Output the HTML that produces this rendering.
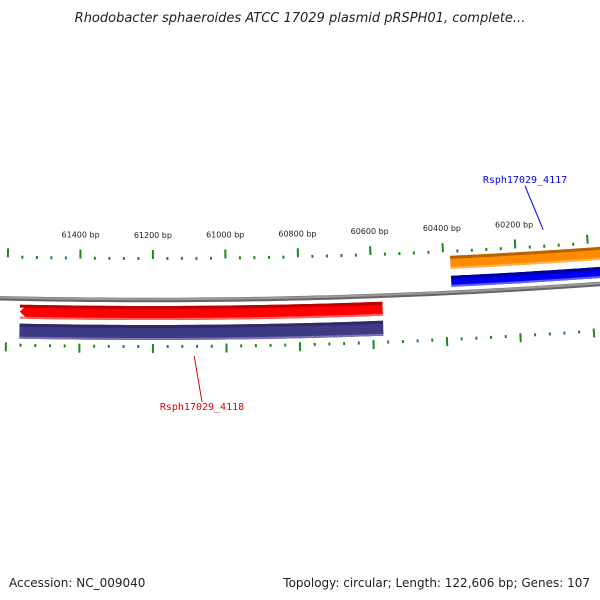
<!DOCTYPE html>
<html><head><meta charset="utf-8">
<style>
body{margin:0;background:#fff;width:600px;height:600px;overflow:hidden;font-family:"DejaVu Sans","Liberation Sans",sans-serif}
svg{display:block}
</style></head>
<body>
<svg id="c" width="600" height="600" viewBox="0 0 600 600">
<text x="300" y="22" text-anchor="middle" font-size="13" font-style="italic" fill="#222">Rhodobacter sphaeroides ATCC 17029 plasmid pRSPH01, complete...</text>
<g id="g"></g>
<text x="9" y="587" font-size="12" fill="#222">Accession: NC_009040</text>
<text x="590" y="587" font-size="12" fill="#222" text-anchor="end">Topology: circular; Length: 122,606 bp; Genes: 107</text>
</svg>
<script>
const tickLabels=[61400,61200,61000,60800,60600,60400,60200];
const geneNames=["Rsph17029_4118","Rsph17029_4117"];
const geneStarts=[60572,59900];
const geneEnds=[61564,60381];
const geneStrands=[-1,1];
const geneColors=["#ff0000","#ff8c00"];
const cogColors=["#3f3a85","#0000ee"];

const R=6330,CX=150,CY=300-R,BP0=61208,K=0.365/R;
const g=document.getElementById('g');
const NS="http://www.w3.org/2000/svg";
function P(bp,off){const t=(BP0-bp)*K,r=R+off;return [CX+r*Math.sin(t),CY+r*Math.cos(t)];}
function mk(tag,attrs){const e=document.createElementNS(NS,tag);for(const k in attrs)e.setAttribute(k,attrs[k]);g.appendChild(e);return e;}
function band(b1,b2,o1,o2,fill,arrowLeft){
  const pts=[];const n=40;
  const lo=Math.min(b1,b2),hi=Math.max(b1,b2);
  const hiA=arrowLeft?hi-20:hi;
  for(let i=0;i<=n;i++){pts.push(P(lo+(hiA-lo)*i/n,o1));}
  if(arrowLeft)pts.push(P(hi,(o1+o2)/2));
  for(let i=n;i>=0;i--){pts.push(P(lo+(hiA-lo)*i/n,o2));}
  return mk('polygon',{points:pts.map(p=>p[0].toFixed(2)+','+p[1].toFixed(2)).join(' '),fill:fill});
}
function arcPath(b1,b2,off){const pts=[];for(let i=0;i<=60;i++)pts.push(P(b1+(b2-b1)*i/60,off));return 'M'+pts.map(p=>p[0].toFixed(2)+' '+p[1].toFixed(2)).join(' L');}

// backbone
let e=mk('path',{d:arcPath(59700,61800,0),stroke:'#666',"stroke-width":4.5,fill:'none'});

e=mk('path',{d:arcPath(59700,61800,-0.8),stroke:'#9a9a9a',"stroke-width":2,fill:'none'});


// ticks
for(let bp=59880;bp<=61800;bp+=40){
  const major=bp%200===0;
  let a=P(bp,major?-50:-43),b=P(bp,major?-41:-40);
  e=mk('line',{x1:a[0],y1:a[1],x2:b[0],y2:b[1],stroke:'#1a8a1a',"stroke-width":2});
  
  a=P(bp,major?44:45);b=P(bp,major?53:48);
  e=mk('line',{x1:a[0],y1:a[1],x2:b[0],y2:b[1],stroke:'#1a8a1a',"stroke-width":2});
  
}
tickLabels.forEach(bp=>{const p=P(bp,-62);
  e=mk('text',{x:p[0],y:p[1],"font-size":8,"text-anchor":"middle",fill:'#222'});
  e.textContent=bp+' bp';
  });

// genes
geneNames.forEach((nm,i)=>{
  const s=geneStarts[i],en=geneEnds[i],fw=geneStrands[i]>0;
  const o1=fw?-37:6,o2=fw?-24:20;
  e=band(s,en,o1,o2,geneColors[i],!fw);
  
  e=band(s,en,o1,o1+3,fw?'#b86200':'#c00000',false);
  
  e=band(s,en,o2-2,o2,fw?'#ffb050':'#ff6060',false);
  
  const c1=fw?-17:25,c2=fw?-6:40;
  e=band(s,en,c1,c2,cogColors[i],false);
  
  e=band(s,en,c1,c1+3,fw?'#00009a':'#2e2a66',false);
  
  e=band(s,en,c2-2,c2,fw?'#6060ff':'#7a74b0',false);
  
});
// labels
function label(nm,bp,off1,off2,col,lx,ly){
  const a=P(bp,off1);
  e=mk('line',{x1:a[0],y1:a[1],x2:lx,y2:ly,stroke:col,"stroke-width":1});
  
  e=mk('text',{x:lx,y:ly+(off1>0?8:-3),"font-size":10,"text-anchor":"middle",fill:col,"font-family":"DejaVu Sans Mono, Liberation Mono, monospace"});
  e.textContent=nm;
  
}
label(geneNames[0],(geneStarts[0]+geneEnds[0])/2+20,56,0,'#e00000',202,402);
label(geneNames[1],60120,-58,0,'#0000ee',525,186);
</script>
</body></html>
